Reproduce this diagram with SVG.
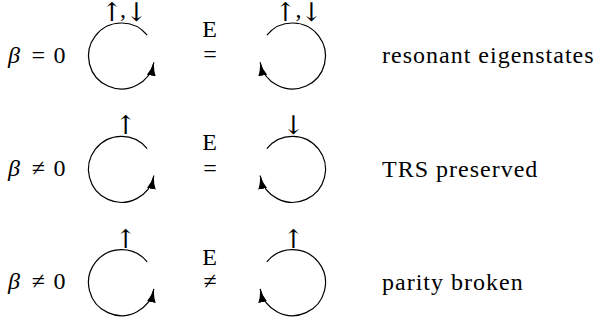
<svg xmlns="http://www.w3.org/2000/svg" width="598" height="328" viewBox="0 0 598 328">
<style>
text{font-family:"Liberation Serif","Times New Roman",serif;font-size:24px;fill:#000}
.m{text-anchor:middle}
.i{font-style:italic}
.lbl{letter-spacing:1px}
.ar{font-family:"DejaVu Serif","DejaVu Sans",serif;font-size:26px}
.ring{fill:none;stroke:#000;stroke-width:1.2}
</style>
<defs>
<marker id="ah" markerUnits="userSpaceOnUse" markerWidth="14" markerHeight="9" refX="13.5" refY="4.5" orient="auto">
<path d="M0,0 Q6,3.5 14,4.5 Q6,5.5 0,9 Z" fill="#000"/>
</marker>
</defs>
<rect width="598" height="328" fill="#fff"/>
<g id="row1">
<g id="beta1"><text class="m i" x="14" y="62.5">β</text><text class="m" x="38.3" y="62.5">=</text><text class="m" x="59.5" y="62.5">0</text></g>
<g id="spin1L"><text class="m ar" x="112" y="20.5">↑</text><text class="m" x="123" y="17">,</text><text class="m ar" x="136.5" y="20.5">↓</text></g>
<g id="spin1R"><text class="m ar" x="285.5" y="20.5">↑</text><text class="m" x="298.5" y="17">,</text><text class="m ar" x="311.5" y="20.5">↓</text></g>
<g id="E1"><text class="m" x="209.5" y="36.5">E</text><text class="m" x="210" y="62">=</text></g>
<g id="desc1"><text class="lbl" x="382" y="63">resonant eigenstates</text></g>
</g>
<g id="row2">
<g id="beta2"><text class="m i" x="14" y="176">β</text><text class="m" x="38.3" y="176">≠</text><text class="m" x="59.5" y="176">0</text></g>
<g id="spin2L"><text class="m ar" x="125.7" y="134">↑</text></g>
<g id="spin2R"><text class="m ar" x="293.5" y="134">↓</text></g>
<g id="E2"><text class="m" x="209.5" y="149.5">E</text><text class="m" x="210" y="175.5">=</text></g>
<g id="desc2"><text class="lbl" x="382" y="176.5">TRS preserved</text></g>
</g>
<g id="row3">
<g id="beta3"><text class="m i" x="14" y="289">β</text><text class="m" x="38.3" y="289">≠</text><text class="m" x="59.5" y="289">0</text></g>
<g id="spin3L"><text class="m ar" x="125.7" y="248">↑</text></g>
<g id="spin3R"><text class="m ar" x="293.3" y="248">↑</text></g>
<g id="E3"><text class="m" x="209.5" y="264.5">E</text><text class="m" x="210" y="289">≠</text></g>
<g id="desc3"><text class="lbl" x="382" y="289.5">parity broken</text></g>
</g>
<g id="connectors">
<path class="ring" marker-end="url(#ah)" d="M147.15,35.23 A33,33 0 1 0 153.9,62.3"/>
<path class="ring" marker-end="url(#ah)" d="M266.85,35.23 A33,33 0 1 1 260.1,62.3"/>
<path class="ring" marker-end="url(#ah)" d="M147.15,148.53 A33,33 0 1 0 153.9,175.6"/>
<path class="ring" marker-end="url(#ah)" d="M266.85,148.53 A33,33 0 1 1 260.1,175.6"/>
<path class="ring" marker-end="url(#ah)" d="M147.15,261.83 A33,33 0 1 0 153.9,288.9"/>
<path class="ring" marker-end="url(#ah)" d="M266.85,261.83 A33,33 0 1 1 260.1,288.9"/>
</g>
</svg>
